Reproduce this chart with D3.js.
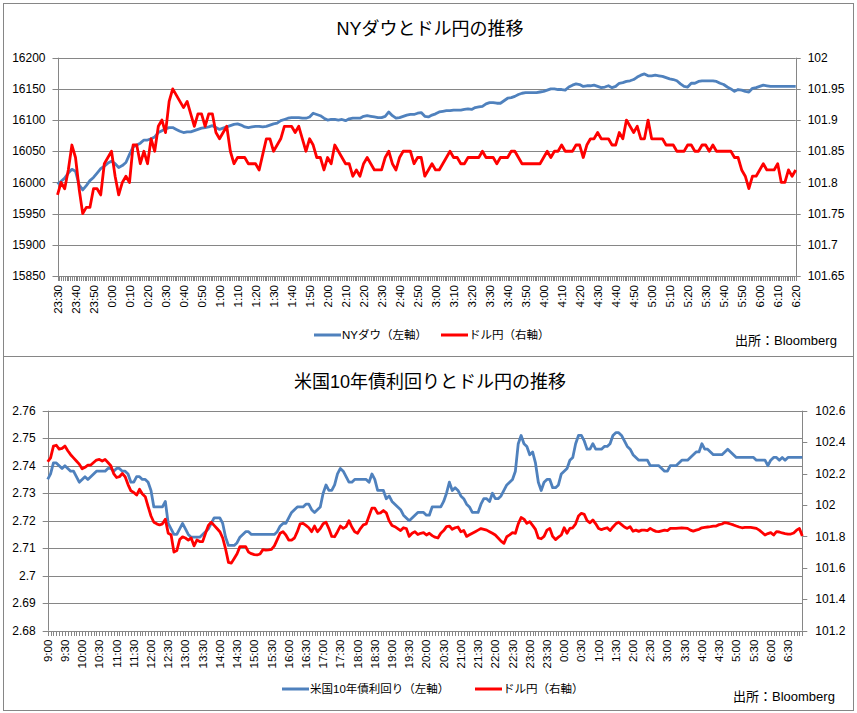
<!DOCTYPE html>
<html><head><meta charset="utf-8">
<script src="https://cdn.jsdelivr.net/npm/d3@7"></script>
<style>
body{margin:0;background:#fff}
svg{display:block}
text{font-family:"Liberation Sans","Noto Sans CJK JP",sans-serif;fill:#000}
</style>
</head><body>
<svg id="c" width="857" height="713"></svg>
<script>
// ---------- Chart 1 : NY Dow & USD/JPY (one value every 2 minutes from 23:30) ----------
const dowStepMin = 2;
const dowTimeLabels = ["23:30","23:40","23:50","0:00","0:10","0:20","0:30","0:40","0:50","1:00","1:10","1:20","1:30","1:40","1:50","2:00","2:10","2:20","2:30","2:40","2:50","3:00","3:10","3:20","3:30","3:40","3:50","4:00","4:10","4:20","4:30","4:40","4:50","5:00","5:10","5:20","5:30","5:40","5:50","6:00","6:10","6:20"];
const dowLabelStepMin = 10;
const dowTicks = [15850,15900,15950,16000,16050,16100,16150,16200];
const jpyTicksTop = [101.65,101.7,101.75,101.8,101.85,101.9,101.95,102];
const dowValues = [
15997,16002,16007,16015,16021,16018,15996,15988,15995,16003,
16008,16015,16022,16026,16031,16034,16030,16024,16027,16032,
16045,16057,16060,16063,16068,16068,16070,16073,16080,16083,
16086,16088,16088,16085,16082,16080,16081,16081,16083,16085,
16087,16088,16089,16091,16088,16085,16087,16089,16091,16093,
16094,16092,16089,16088,16089,16090,16090,16089,16090,16092,
16094,16095,16099,16101,16103,16104,16104,16104,16103,16103,
16105,16111,16109,16107,16103,16100,16101,16101,16100,16101,
16099,16102,16103,16103,16103,16106,16107,16106,16105,16104,
16104,16106,16113,16107,16103,16104,16106,16108,16109,16109,
16111,16112,16106,16105,16108,16110,16113,16114,16115,16115,
16116,16116,16116,16117,16118,16117,16120,16121,16122,16126,
16128,16128,16127,16127,16131,16135,16136,16138,16141,16143,
16144,16144,16144,16144,16145,16146,16148,16150,16150,16149,
16149,16148,16153,16156,16158,16157,16154,16155,16155,16156,
16154,16152,16153,16155,16152,16154,16159,16160,16162,16163,
16165,16169,16172,16174,16171,16171,16172,16171,16170,16168,
16166,16165,16163,16158,16154,16153,16159,16159,16162,16163,
16163,16163,16163,16162,16159,16157,16153,16150,16146,16149,
16148,16146,16145,16151,16152,16154,16156,16155,16154,16154,
16154,16154,16154,16154,16154,16154];
const jpyValuesTop = [
101.78,101.80,101.79,101.82,101.86,101.84,101.79,101.75,101.76,101.76,
101.79,101.79,101.78,101.83,101.84,101.85,101.81,101.78,101.80,101.81,
101.80,101.86,101.86,101.83,101.85,101.83,101.87,101.85,101.89,101.90,
101.88,101.93,101.95,101.94,101.93,101.92,101.93,101.91,101.89,101.91,
101.91,101.89,101.91,101.91,101.88,101.87,101.88,101.89,101.85,101.83,
101.84,101.84,101.84,101.83,101.83,101.83,101.82,101.845,101.87,101.87,
101.85,101.86,101.87,101.89,101.89,101.89,101.88,101.89,101.87,101.85,
101.87,101.86,101.84,101.84,101.82,101.84,101.83,101.86,101.85,101.84,
101.83,101.83,101.81,101.82,101.81,101.83,101.84,101.83,101.82,101.82,
101.82,101.84,101.85,101.83,101.82,101.84,101.85,101.85,101.85,101.83,
101.84,101.84,101.81,101.82,101.83,101.82,101.82,101.83,101.84,101.85,
101.84,101.84,101.83,101.83,101.84,101.84,101.84,101.84,101.85,101.84,
101.84,101.84,101.83,101.84,101.84,101.84,101.85,101.85,101.84,101.83,
101.83,101.83,101.83,101.83,101.83,101.84,101.85,101.84,101.85,101.85,
101.86,101.85,101.85,101.85,101.86,101.86,101.84,101.86,101.87,101.87,
101.88,101.87,101.87,101.87,101.86,101.86,101.88,101.87,101.90,101.89,
101.88,101.89,101.87,101.87,101.90,101.87,101.87,101.87,101.87,101.86,
101.86,101.86,101.85,101.85,101.85,101.86,101.86,101.85,101.85,101.86,
101.86,101.85,101.86,101.85,101.85,101.85,101.85,101.85,101.84,101.84,
101.82,101.81,101.79,101.81,101.81,101.82,101.83,101.82,101.82,101.82,
101.83,101.80,101.80,101.82,101.81,101.82];

// ---------- Chart 2 : US 10y yield & USD/JPY (one value every 5 minutes from 9:00) ----------
const bondStepMin = 5;
const bondTimeLabels = ["9:00","9:30","10:00","10:30","11:00","11:30","12:00","12:30","13:00","13:30","14:00","14:30","15:00","15:30","16:00","16:30","17:00","17:30","18:00","18:30","19:00","19:30","20:00","20:30","21:00","21:30","22:00","22:30","23:00","23:30","0:00","0:30","1:00","1:30","2:00","2:30","3:00","3:30","4:00","4:30","5:00","5:30","6:00","6:30"];
const bondLabelStepMin = 30;
const yieldTicks = [2.68,2.69,2.7,2.71,2.72,2.73,2.74,2.75,2.76];
const jpyTicksBottom = [101.2,101.4,101.6,101.8,102,102.2,102.4,102.6];
const yieldValues = [
2.735,2.737,2.741,2.741,2.740,2.739,2.740,2.739,2.738,2.738,2.736,2.734,
2.735,2.736,2.735,2.736,2.737,2.738,2.738,2.738,2.738,2.739,2.739,2.738,
2.739,2.739,2.738,2.738,2.737,2.734,2.734,2.736,2.736,2.735,2.735,2.734,
2.731,2.725,2.725,2.725,2.725,2.727,2.719,2.717,2.715,2.715,2.717,2.719,
2.717,2.715,2.714,2.714,2.714,2.714,2.715,2.716,2.717,2.719,2.721,2.721,
2.721,2.719,2.714,2.711,2.711,2.711,2.712,2.714,2.715,2.716,2.716,2.715,
2.715,2.715,2.715,2.715,2.715,2.715,2.715,2.715,2.716,2.718,2.719,2.719,
2.721,2.723,2.724,2.725,2.725,2.725,2.726,2.726,2.724,2.723,2.724,2.725,
2.730,2.733,2.731,2.731,2.733,2.737,2.739,2.738,2.736,2.734,2.734,2.735,
2.735,2.735,2.735,2.735,2.734,2.737,2.735,2.731,2.731,2.731,2.728,2.729,
2.727,2.726,2.725,2.724,2.722,2.721,2.720,2.721,2.722,2.723,2.723,2.723,
2.722,2.722,2.725,2.725,2.725,2.725,2.727,2.730,2.734,2.731,2.732,2.731,
2.729,2.728,2.726,2.725,2.723,2.723,2.723,2.726,2.728,2.728,2.727,2.730,
2.728,2.728,2.729,2.731,2.733,2.734,2.735,2.738,2.748,2.751,2.748,2.747,
2.744,2.745,2.741,2.734,2.731,2.734,2.735,2.735,2.732,2.732,2.733,2.737,
2.738,2.739,2.742,2.743,2.748,2.751,2.751,2.749,2.746,2.746,2.748,2.746,
2.746,2.746,2.747,2.747,2.748,2.751,2.752,2.752,2.751,2.749,2.747,2.746,
2.744,2.743,2.742,2.742,2.742,2.742,2.740,2.740,2.740,2.740,2.739,2.738,
2.738,2.740,2.740,2.740,2.741,2.742,2.742,2.742,2.743,2.744,2.745,2.745,
2.748,2.746,2.746,2.745,2.744,2.744,2.744,2.744,2.745,2.746,2.745,2.744,
2.743,2.743,2.743,2.743,2.743,2.743,2.743,2.742,2.742,2.742,2.742,2.740,
2.742,2.743,2.743,2.742,2.743,2.742,2.743,2.743,2.743,2.743,2.743,2.743];
const jpyValuesBottom = [
102.275,102.30,102.375,102.38,102.355,102.36,102.375,102.345,102.32,102.30,102.28,102.26,
102.23,102.24,102.254,102.254,102.27,102.286,102.29,102.28,102.29,102.27,102.25,102.20,
102.175,102.18,102.20,102.18,102.13,102.09,102.08,102.063,102.10,102.07,102.053,101.99,
101.93,101.89,101.88,101.873,101.88,101.91,101.82,101.81,101.70,101.71,101.78,101.797,
101.79,101.777,101.79,101.74,101.777,101.767,101.767,101.82,101.87,101.89,101.87,101.85,
101.83,101.79,101.72,101.635,101.63,101.66,101.69,101.735,101.735,101.735,101.70,101.69,
101.684,101.682,101.688,101.716,101.713,101.715,101.718,101.74,101.78,101.82,101.83,101.809,
101.777,101.777,101.79,101.83,101.88,101.883,101.87,101.855,101.83,101.866,101.83,101.85,
101.88,101.89,101.85,101.80,101.798,101.83,101.866,101.851,101.862,101.90,101.86,101.83,
101.82,101.85,101.873,101.879,101.93,101.98,101.98,101.947,101.95,101.965,101.95,101.90,
101.87,101.862,101.85,101.837,101.855,101.85,101.80,101.82,101.83,101.812,101.82,101.824,
101.809,101.82,101.805,101.795,101.79,101.82,101.837,101.862,101.866,101.845,101.855,101.86,
101.83,101.838,101.80,101.81,101.82,101.83,101.84,101.85,101.845,101.84,101.83,101.82,
101.809,101.79,101.77,101.756,101.798,101.81,101.824,101.82,101.88,101.92,101.91,101.883,
101.894,101.87,101.845,101.79,101.785,101.80,101.84,101.851,101.80,101.78,101.795,101.809,
101.855,101.82,101.851,101.855,101.88,101.93,101.947,101.94,101.90,101.887,101.905,101.88,
101.85,101.843,101.85,101.855,101.837,101.86,101.88,101.89,101.875,101.86,101.851,101.862,
101.833,101.84,101.832,101.84,101.84,101.837,101.851,101.84,101.832,101.83,101.835,101.84,
101.837,101.851,101.851,101.851,101.853,101.855,101.853,101.851,101.84,101.834,101.84,101.845,
101.855,101.858,101.86,101.862,101.865,101.866,101.875,101.879,101.888,101.885,101.879,101.873,
101.866,101.86,101.855,101.857,101.858,101.858,101.855,101.851,101.84,101.825,101.809,101.818,
101.824,101.809,101.83,101.828,101.822,101.818,101.815,101.815,101.822,101.84,101.85,101.802];

const BLUE = "#4F81BD", RED = "#FF0000", GRID = "#868686";
const svg = d3.select("#c");
const fmt = v => String(+v.toFixed(2));

function drawChart(o){
  const g = svg.append("g");
  // frame
  g.append("rect").attr("x",o.frame[0]+0.5).attr("y",o.frame[1]+0.5)
    .attr("width",o.frame[2]).attr("height",o.frame[3])
    .attr("fill","#fff").attr("stroke",GRID).attr("stroke-width",1);
  // title
  g.append("text").attr("x",o.titleX).attr("y",o.titleY).attr("text-anchor","middle")
    .attr("font-size",18).text(o.title);

  const lastMin = (o.series[0].values.length-1)*o.step;
  const x = d3.scaleLinear().domain([0,lastMin]).range([o.L,o.R]);
  const yL = d3.scaleLinear().domain(d3.extent(o.leftTicks)).range([o.B,o.T]);
  const yR = d3.scaleLinear().domain(d3.extent(o.rightTicks)).range([o.B,o.T]);

  // gridlines from the left axis
  g.append("g").selectAll("line").data(o.leftTicks).join("line")
    .attr("x1",o.L-5).attr("x2",o.R).attr("y1",d=>Math.round(yL(d))+0.5).attr("y2",d=>Math.round(yL(d))+0.5)
    .attr("stroke",GRID).attr("stroke-width",1);
  // right axis ticks
  g.append("g").selectAll("line").data(o.rightTicks).join("line")
    .attr("x1",o.R).attr("x2",o.R+5).attr("y1",d=>Math.round(yR(d))+0.5).attr("y2",d=>Math.round(yR(d))+0.5)
    .attr("stroke",GRID).attr("stroke-width",1);
  // axis lines
  g.append("line").attr("x1",Math.round(o.L)+0.5).attr("x2",Math.round(o.L)+0.5).attr("y1",o.T).attr("y2",o.B)
    .attr("stroke",GRID);
  g.append("line").attr("x1",Math.round(o.R)+0.5).attr("x2",Math.round(o.R)+0.5).attr("y1",o.T).attr("y2",o.B)
    .attr("stroke",GRID);
  // x minor ticks
  g.append("g").selectAll("line").data(d3.range(0,lastMin+1,o.tickEvery)).join("line")
    .attr("x1",d=>Math.round(x(d))+0.5).attr("x2",d=>Math.round(x(d))+0.5)
    .attr("y1",Math.round(o.B)).attr("y2",Math.round(o.B)+5)
    .attr("stroke",GRID).attr("stroke-width",1);

  // y labels
  g.append("g").selectAll("text").data(o.leftTicks).join("text")
    .attr("x",o.L-o.leftLabelGap).attr("y",d=>yL(d)).attr("dy","0.35em").attr("text-anchor","end")
    .attr("font-size",12).text(fmt);
  g.append("g").selectAll("text").data(o.rightTicks).join("text")
    .attr("x",o.R+o.rightLabelGap).attr("y",d=>yR(d)).attr("dy","0.35em").attr("text-anchor","start")
    .attr("font-size",12).text(fmt);
  // x labels (rotated)
  g.append("g").selectAll("text").data(o.xLabels).join("text")
    .attr("transform",(d,i)=>`translate(${x(i*o.labelStep)},${o.B+9}) rotate(-90)`)
    .attr("dy","0.35em").attr("text-anchor","end").attr("font-size",11.5).text(d=>d);

  // series
  o.series.forEach(s=>{
    const y = s.axis==="left" ? yL : yR;
    const line = d3.line().x((d,i)=>x(i*o.step)).y(d=>y(d));
    g.append("path").datum(s.values).attr("d",line).attr("fill","none")
      .attr("stroke",s.color).attr("stroke-width",2.8).attr("stroke-linejoin","round");
  });

  // legend
  o.legend.forEach(l=>{
    g.append("line").attr("x1",l.x).attr("x2",l.x+27).attr("y1",l.y).attr("y2",l.y)
      .attr("stroke",l.color).attr("stroke-width",3);
    g.append("text").attr("x",l.x+28).attr("y",l.y).attr("dy","0.38em").attr("font-size",11.5).text(l.text);
  });
  g.append("text").attr("x",o.srcX).attr("y",o.srcY).attr("dy","0.38em").attr("font-size",13).text("出所：Bloomberg");
}

drawChart({
  frame:[3,3,850,353], title:"NYダウとドル円の推移", titleX:430, titleY:35,
  L:57.5, R:795.7, T:57.7, B:276,
  leftTicks:dowTicks, rightTicks:jpyTicksTop, leftLabelGap:12, rightLabelGap:12,
  step:dowStepMin, tickEvery:1, labelStep:dowLabelStepMin, xLabels:dowTimeLabels,
  series:[{values:dowValues,axis:"left",color:BLUE},{values:jpyValuesTop,axis:"right",color:RED}],
  legend:[{x:314,y:335,color:BLUE,text:"NYダウ（左軸）"},{x:441,y:335,color:RED,text:"ドル円（右軸）"}],
  srcX:735, srcY:340
});
drawChart({
  frame:[3,356,850,354], title:"米国10年債利回りとドル円の推移", titleX:430, titleY:388,
  L:47.7, R:802.3, T:410.7, B:630.7,
  leftTicks:yieldTicks, rightTicks:jpyTicksBottom, leftLabelGap:12, rightLabelGap:13,
  step:bondStepMin, tickEvery:bondStepMin, labelStep:bondLabelStepMin, xLabels:bondTimeLabels,
  series:[{values:yieldValues,axis:"left",color:BLUE},{values:jpyValuesBottom,axis:"right",color:RED}],
  legend:[{x:282,y:689,color:BLUE,text:"米国10年債利回り（左軸）"},{x:475,y:689,color:RED,text:"ドル円（右軸）"}],
  srcX:733, srcY:696
});
</script>
</body></html>
